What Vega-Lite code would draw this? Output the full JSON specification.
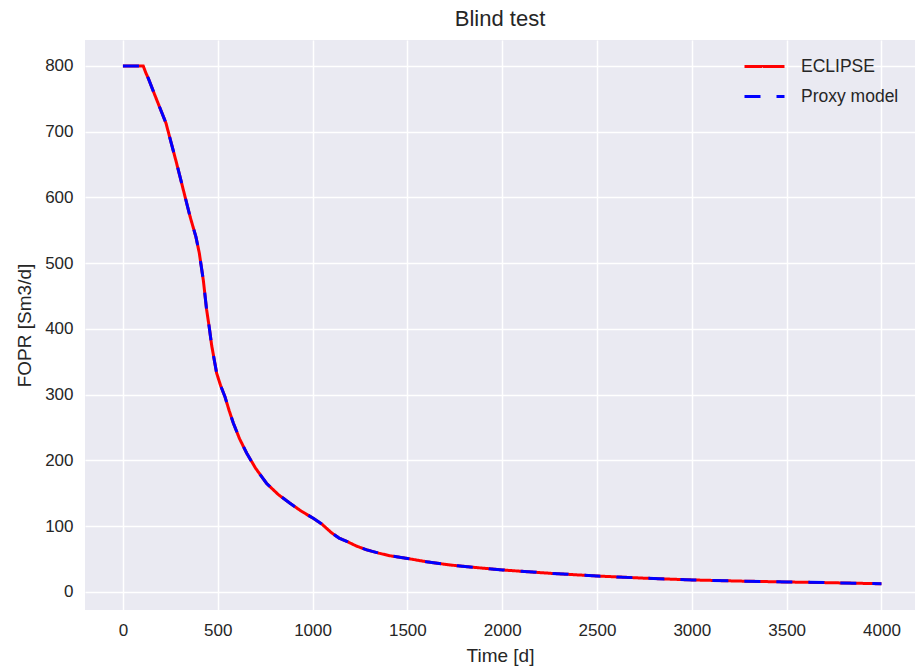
{
  "$schema": "https://vega.github.io/schema/vega-lite/v6.json",
  "autosize": {"type": "none"},
  "padding": {"left": 85, "top": 40, "right": 0, "bottom": 62},
  "width": 830,
  "height": 570,
  "background": "white",
  "title": {"text": "Blind test", "fontSize": 22, "font": "Liberation Sans", "fontWeight": "normal", "color": "#262626", "offset": 9},
  "config": {
    "view": {"fill": "#EAEAF2", "stroke": null},
    "font": "Liberation Sans"
  },
  "data": {"values": [
    {"t": 0, "v": 800, "s": "ECLIPSE"}, {"t": 107, "v": 800, "s": "ECLIPSE"}, {"t": 120, "v": 790, "s": "ECLIPSE"}, {"t": 134, "v": 781, "s": "ECLIPSE"},
    {"t": 165, "v": 758, "s": "ECLIPSE"}, {"t": 227, "v": 713, "s": "ECLIPSE"}, {"t": 283, "v": 652, "s": "ECLIPSE"}, {"t": 354, "v": 571, "s": "ECLIPSE"},
    {"t": 385, "v": 540, "s": "ECLIPSE"}, {"t": 403, "v": 515, "s": "ECLIPSE"}, {"t": 424, "v": 474, "s": "ECLIPSE"}, {"t": 441, "v": 430, "s": "ECLIPSE"},
    {"t": 455, "v": 403, "s": "ECLIPSE"}, {"t": 468, "v": 375, "s": "ECLIPSE"}, {"t": 494, "v": 333, "s": "ECLIPSE"}, {"t": 515, "v": 314, "s": "ECLIPSE"},
    {"t": 538, "v": 297, "s": "ECLIPSE"}, {"t": 560, "v": 276, "s": "ECLIPSE"}, {"t": 582, "v": 257, "s": "ECLIPSE"}, {"t": 615, "v": 233, "s": "ECLIPSE"},
    {"t": 653, "v": 211, "s": "ECLIPSE"}, {"t": 700, "v": 188, "s": "ECLIPSE"}, {"t": 758, "v": 165, "s": "ECLIPSE"}, {"t": 820, "v": 148, "s": "ECLIPSE"},
    {"t": 881, "v": 135, "s": "ECLIPSE"}, {"t": 940, "v": 123, "s": "ECLIPSE"}, {"t": 1004, "v": 112, "s": "ECLIPSE"}, {"t": 1050, "v": 103, "s": "ECLIPSE"},
    {"t": 1100, "v": 90, "s": "ECLIPSE"}, {"t": 1140, "v": 82, "s": "ECLIPSE"}, {"t": 1180, "v": 77, "s": "ECLIPSE"}, {"t": 1230, "v": 70, "s": "ECLIPSE"},
    {"t": 1286, "v": 64, "s": "ECLIPSE"}, {"t": 1350, "v": 59, "s": "ECLIPSE"}, {"t": 1409, "v": 55, "s": "ECLIPSE"}, {"t": 1500, "v": 51, "s": "ECLIPSE"},
    {"t": 1600, "v": 46, "s": "ECLIPSE"}, {"t": 1726, "v": 41, "s": "ECLIPSE"}, {"t": 1850, "v": 37.5, "s": "ECLIPSE"}, {"t": 2002, "v": 33.5, "s": "ECLIPSE"},
    {"t": 2253, "v": 28.4, "s": "ECLIPSE"}, {"t": 2500, "v": 24.3, "s": "ECLIPSE"}, {"t": 2750, "v": 21, "s": "ECLIPSE"}, {"t": 3004, "v": 18.3, "s": "ECLIPSE"},
    {"t": 3250, "v": 16.6, "s": "ECLIPSE"}, {"t": 3502, "v": 15.2, "s": "ECLIPSE"}, {"t": 3750, "v": 14, "s": "ECLIPSE"}, {"t": 4000, "v": 12.5, "s": "ECLIPSE"},
    {"t": 0, "v": 800, "s": "Proxy model"}, {"t": 107, "v": 800, "s": "Proxy model"}, {"t": 120, "v": 790, "s": "Proxy model"}, {"t": 134, "v": 781, "s": "Proxy model"},
    {"t": 165, "v": 758, "s": "Proxy model"}, {"t": 227, "v": 713, "s": "Proxy model"}, {"t": 283, "v": 652, "s": "Proxy model"}, {"t": 354, "v": 571, "s": "Proxy model"},
    {"t": 385, "v": 540, "s": "Proxy model"}, {"t": 403, "v": 515, "s": "Proxy model"}, {"t": 424, "v": 474, "s": "Proxy model"}, {"t": 441, "v": 430, "s": "Proxy model"},
    {"t": 455, "v": 403, "s": "Proxy model"}, {"t": 468, "v": 375, "s": "Proxy model"}, {"t": 494, "v": 333, "s": "Proxy model"}, {"t": 515, "v": 314, "s": "Proxy model"},
    {"t": 538, "v": 297, "s": "Proxy model"}, {"t": 560, "v": 276, "s": "Proxy model"}, {"t": 582, "v": 257, "s": "Proxy model"}, {"t": 615, "v": 233, "s": "Proxy model"},
    {"t": 653, "v": 211, "s": "Proxy model"}, {"t": 700, "v": 188, "s": "Proxy model"}, {"t": 758, "v": 165, "s": "Proxy model"}, {"t": 820, "v": 148, "s": "Proxy model"},
    {"t": 881, "v": 135, "s": "Proxy model"}, {"t": 940, "v": 123, "s": "Proxy model"}, {"t": 1004, "v": 112, "s": "Proxy model"}, {"t": 1050, "v": 103, "s": "Proxy model"},
    {"t": 1100, "v": 90, "s": "Proxy model"}, {"t": 1140, "v": 82, "s": "Proxy model"}, {"t": 1180, "v": 77, "s": "Proxy model"}, {"t": 1230, "v": 70, "s": "Proxy model"},
    {"t": 1286, "v": 64, "s": "Proxy model"}, {"t": 1350, "v": 59, "s": "Proxy model"}, {"t": 1409, "v": 55, "s": "Proxy model"}, {"t": 1500, "v": 51, "s": "Proxy model"},
    {"t": 1600, "v": 46, "s": "Proxy model"}, {"t": 1726, "v": 41, "s": "Proxy model"}, {"t": 1850, "v": 37.5, "s": "Proxy model"}, {"t": 2002, "v": 33.5, "s": "Proxy model"},
    {"t": 2253, "v": 28.4, "s": "Proxy model"}, {"t": 2500, "v": 24.3, "s": "Proxy model"}, {"t": 2750, "v": 21, "s": "Proxy model"}, {"t": 3004, "v": 18.3, "s": "Proxy model"},
    {"t": 3250, "v": 16.6, "s": "Proxy model"}, {"t": 3502, "v": 15.2, "s": "Proxy model"}, {"t": 3750, "v": 14, "s": "Proxy model"}, {"t": 4000, "v": 12.5, "s": "Proxy model"}
  ]},
  "mark": {"type": "line", "strokeWidth": 3, "clip": true},
  "encoding": {
    "x": {
      "field": "t", "type": "quantitative",
      "scale": {"domain": [-200, 4177], "nice": false, "zero": false},
      "axis": {
        "title": "Time [d]", "values": [0, 500, 1000, 1500, 2000, 2500, 3000, 3500, 4000],
        "format": "d", "domain": false, "ticks": false,
        "grid": true, "gridColor": "white", "gridWidth": 1.5,
        "labelFontSize": 17, "labelColor": "#262626", "labelPadding": 12,
        "titleFontSize": 19, "titleFontWeight": "normal", "titleColor": "#262626", "titlePadding": 8
      }
    },
    "y": {
      "field": "v", "type": "quantitative",
      "scale": {"domain": [-27.4, 839.4], "nice": false, "zero": false},
      "axis": {
        "title": "FOPR [Sm3/d]", "values": [0, 100, 200, 300, 400, 500, 600, 700, 800],
        "format": "d", "domain": false, "ticks": false,
        "grid": true, "gridColor": "white", "gridWidth": 1.5,
        "labelFontSize": 17, "labelColor": "#262626", "labelPadding": 12,
        "titleFontSize": 19, "titleFontWeight": "normal", "titleColor": "#262626", "titlePadding": 10
      }
    },
    "color": {
      "field": "s", "type": "nominal",
      "scale": {"domain": ["ECLIPSE", "Proxy model"], "range": ["#FF0000", "#0000FF"]},
      "legend": {
        "title": null, "orient": "none", "legendX": 658, "legendY": 5,
        "symbolType": "stroke", "symbolSize": 1600, "symbolStrokeWidth": 3,
        "labelFontSize": 17.5, "labelColor": "#262626", "labelOffset": 15,
        "rowPadding": -15, "padding": 0
      }
    },
    "strokeDash": {
      "field": "s", "type": "nominal",
      "scale": {"domain": ["ECLIPSE", "Proxy model"], "range": [[1, 0], [16, 16]]},
      "legend": {
        "title": null, "orient": "none", "legendX": 658, "legendY": 5,
        "symbolType": "stroke", "symbolSize": 1600, "symbolStrokeWidth": 3,
        "labelFontSize": 17.5, "labelColor": "#262626", "labelOffset": 15,
        "rowPadding": -15, "padding": 0
      }
    },
    "order": {"field": "t", "type": "quantitative"}
  }
}
